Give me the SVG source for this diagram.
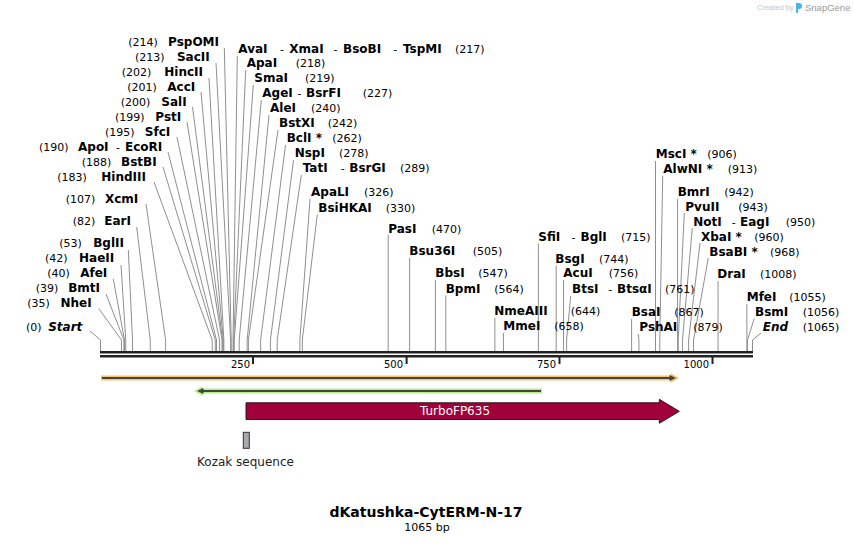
<svg xmlns="http://www.w3.org/2000/svg" width="854" height="543" viewBox="0 0 854 543">
<style>
.e{font-family:"DejaVu Sans",Verdana,sans-serif;font-size:12px;font-weight:bold;fill:#000}
.i{font-style:italic}
.n{font-family:"DejaVu Sans",Verdana,sans-serif;font-size:11px;font-weight:normal;fill:#000}
.t{font-family:"DejaVu Sans",Verdana,sans-serif;font-size:10px;fill:#000}
.c polyline{fill:none;stroke:#8f8f8f;stroke-width:1}
</style>
<rect width="854" height="543" fill="#fff"/>
<g id="watermark">
<text x="757" y="10" font-family="Liberation Sans,Arial,sans-serif" font-size="7.5" fill="#c4c4c4">Created by</text>
<path d="M796,3 h3 a3,3 0 0 1 0,6 h-1 v4 h-2 z" fill="#4ab3e8"/>
<text x="805" y="11" font-family="Liberation Sans,Arial,sans-serif" font-size="9.5" fill="#9a9a9a">SnapGene</text>
</g>
<g id="connectors" class="c">
<polyline points="224.3,48 231.21,340 231.21,351"/>
<polyline points="216,63 230.6,340 230.6,351"/>
<polyline points="209,78 223.86,340 223.86,351"/>
<polyline points="201,92 223.24,340 223.24,351"/>
<polyline points="192.5,107 222.63,340 222.63,351"/>
<polyline points="187,122 222.02,340 222.02,351"/>
<polyline points="177,137 219.56,340 219.56,351"/>
<polyline points="168,152 216.5,340 216.5,351"/>
<polyline points="163,167 215.27,340 215.27,351"/>
<polyline points="154,182 212.21,340 212.21,351"/>
<polyline points="146,204 165.61,340 165.61,351"/>
<polyline points="136.7,227 150.28,340 150.28,351"/>
<polyline points="128.3,250 132.5,340 132.5,351"/>
<polyline points="121,265 125.75,340 125.75,351"/>
<polyline points="113.3,279 124.53,340 124.53,351"/>
<polyline points="106,294 123.91,340 123.91,351"/>
<polyline points="98.7,308.5 121.46,340 121.46,351"/>
<polyline points="90,331 100.5,340 100.5,351"/>
<polyline points="237.3,56 233.05,340 233.05,351"/>
<polyline points="245.7,70 233.67,340 233.67,351"/>
<polyline points="253.3,85 234.28,340 234.28,351"/>
<polyline points="261.3,100 239.18,340 239.18,351"/>
<polyline points="269,115 247.16,340 247.16,351"/>
<polyline points="278,130 248.38,340 248.38,351"/>
<polyline points="285.5,145 260.64,340 260.64,351"/>
<polyline points="293.5,160 270.45,340 270.45,351"/>
<polyline points="301.3,175 277.2,340 277.2,351"/>
<polyline points="310,199 299.89,340 299.89,351"/>
<polyline points="317.3,214.5 302.34,340 302.34,351"/>
<polyline points="388.18,235 388.18,351"/>
<polyline points="409.64,258 409.64,351"/>
<polyline points="435.39,280 435.39,351"/>
<polyline points="445.81,295.5 445.81,351"/>
<polyline points="494.87,318 494.87,351"/>
<polyline points="503.45,333 503.45,351"/>
<polyline points="538.4,243.5 538.4,351"/>
<polyline points="556.18,265.5 556.18,351"/>
<polyline points="563.54,280 563.54,351"/>
<polyline points="570.7,296 566.6,340 566.6,351"/>
<polyline points="631.6,319 631.6,351"/>
<polyline points="638.3,334 638.95,340 638.95,351"/>
<polyline points="655.51,161 655.51,351"/>
<polyline points="662.7,176 659.8,340 659.8,351"/>
<polyline points="677.58,199 677.58,351"/>
<polyline points="684.3,213 678.2,340 678.2,351"/>
<polyline points="692.3,228 682.49,340 682.49,351"/>
<polyline points="700,243 688.63,340 688.63,351"/>
<polyline points="708.3,258 693.53,340 693.53,351"/>
<polyline points="718.05,281 718.05,351"/>
<polyline points="746.87,304 746.87,351"/>
<polyline points="754.3,318.5 747.48,340 747.48,351"/>
<polyline points="761,333 752.5,340 752.5,351"/>
</g>
<g id="labels-left">
<g id="PspOMI"><text class="n" x="128.3" y="46">(214)</text><text class="e" x="219" y="46" text-anchor="end">PspOMI</text></g>
<g id="SacII"><text class="n" x="135" y="61">(213)</text><text class="e" x="209.7" y="61" text-anchor="end">SacII</text></g>
<g id="HincII"><text class="n" x="121.7" y="76">(202)</text><text class="e" x="203" y="76" text-anchor="end">HincII</text></g>
<g id="AccI"><text class="n" x="127.3" y="91">(201)</text><text class="e" x="195.3" y="91" text-anchor="end">AccI</text></g>
<g id="SalI"><text class="n" x="120.7" y="105.7">(200)</text><text class="e" x="186.7" y="105.7" text-anchor="end">SalI</text></g>
<g id="PstI"><text class="n" x="115" y="120.5">(199)</text><text class="e" x="181.3" y="120.5" text-anchor="end">PstI</text></g>
<g id="SfcI"><text class="n" x="105" y="135.5">(195)</text><text class="e" x="170.3" y="135.5" text-anchor="end">SfcI</text></g>
<g id="ApoI"><text class="n" x="39" y="150.5">(190)</text><text class="e" x="78" y="150.5">ApoI</text><text class="n" x="116" y="150.5">-</text><text class="e" x="125" y="150.5">EcoRI</text></g>
<g id="BstBI"><text class="n" x="81.7" y="165.5">(188)</text><text class="e" x="156.7" y="165.5" text-anchor="end">BstBI</text></g>
<g id="HindIII"><text class="n" x="57.3" y="180.5">(183)</text><text class="e" x="146" y="180.5" text-anchor="end">HindIII</text></g>
<g id="XcmI"><text class="n" x="65.7" y="202.5">(107)</text><text class="e" x="138.3" y="202.5" text-anchor="end">XcmI</text></g>
<g id="EarI"><text class="n" x="72.7" y="225">(82)</text><text class="e" x="131" y="225" text-anchor="end">EarI</text></g>
<g id="BglII"><text class="n" x="59.3" y="247">(53)</text><text class="e" x="124" y="247" text-anchor="end">BglII</text></g>
<g id="HaeII"><text class="n" x="45" y="262">(42)</text><text class="e" x="114.3" y="262" text-anchor="end">HaeII</text></g>
<g id="AfeI"><text class="n" x="47.3" y="277">(40)</text><text class="e" x="107.3" y="277" text-anchor="end">AfeI</text></g>
<g id="BmtI"><text class="n" x="35.7" y="292">(39)</text><text class="e" x="100" y="292" text-anchor="end">BmtI</text></g>
<g id="NheI"><text class="n" x="27.3" y="307">(35)</text><text class="e" x="91.7" y="307" text-anchor="end">NheI</text></g>
<g id="Start"><text class="n" x="26" y="330.5">(0)</text><text class="e i" x="82.3" y="330.5" text-anchor="end">Start</text></g>
</g>
<g id="labels-right">
<g id="AvaI"><text class="e" x="238.3" y="52.5">AvaI</text><text class="n" x="280" y="52.5">-</text><text class="e" x="289.3" y="52.5">XmaI</text><text class="n" x="333.5" y="52.5">-</text><text class="e" x="343" y="52.5">BsoBI</text><text class="n" x="393.3" y="52.5">-</text><text class="e" x="403" y="52.5">TspMI</text><text class="n" x="455" y="52.5">(217)</text></g>
<g id="ApaI"><text class="e" x="246.7" y="67.3">ApaI</text><text class="n" x="295.7" y="67.3">(218)</text></g>
<g id="SmaI"><text class="e" x="254.3" y="82.3">SmaI</text><text class="n" x="305" y="82.3">(219)</text></g>
<g id="AgeI"><text class="e" x="262.3" y="97">AgeI</text><text class="n" x="297.5" y="97">-</text><text class="e" x="306" y="97">BsrFI</text><text class="n" x="362.7" y="97">(227)</text></g>
<g id="AleI"><text class="e" x="270" y="112">AleI</text><text class="n" x="311" y="112">(240)</text></g>
<g id="BstXI"><text class="e" x="279" y="127">BstXI</text><text class="n" x="327.7" y="127">(242)</text></g>
<g id="BclI"><text class="e" x="286.7" y="142">BclI *</text><text class="n" x="332.3" y="142">(262)</text></g>
<g id="NspI"><text class="e" x="294.7" y="157">NspI</text><text class="n" x="339" y="157">(278)</text></g>
<g id="TatI"><text class="e" x="302.7" y="172.3">TatI</text><text class="n" x="340.7" y="172.3">-</text><text class="e" x="349.3" y="172.3">BsrGI</text><text class="n" x="400" y="172.3">(289)</text></g>
<g id="ApaLI"><text class="e" x="311" y="196.3">ApaLI</text><text class="n" x="364" y="196.3">(326)</text></g>
<g id="BsiHKAI"><text class="e" x="318.3" y="211.5">BsiHKAI</text><text class="n" x="385.7" y="211.5">(330)</text></g>
<g id="PasI"><text class="e" x="388.3" y="232.5">PasI</text><text class="n" x="431.7" y="232.5">(470)</text></g>
<g id="Bsu36I"><text class="e" x="409.3" y="255">Bsu36I</text><text class="n" x="472.7" y="255">(505)</text></g>
<g id="BbsI"><text class="e" x="435.3" y="277.3">BbsI</text><text class="n" x="478.3" y="277.3">(547)</text></g>
<g id="BpmI"><text class="e" x="445.7" y="292.7">BpmI</text><text class="n" x="494.3" y="292.7">(564)</text></g>
<g id="NmeAIII"><text class="e" x="494.3" y="315">NmeAIII</text><text class="n" x="570.7" y="315">(644)</text></g>
<g id="MmeI"><text class="e" x="503.3" y="330">MmeI</text><text class="n" x="554.3" y="330">(658)</text></g>
<g id="SfiI"><text class="e" x="538.3" y="240.5">SfiI</text><text class="n" x="571.5" y="240.5">-</text><text class="e" x="580.5" y="240.5">BglI</text><text class="n" x="621" y="240.5">(715)</text></g>
<g id="BsgI"><text class="e" x="555.3" y="262.7">BsgI</text><text class="n" x="599" y="262.7">(744)</text></g>
<g id="AcuI"><text class="e" x="563.3" y="277.3">AcuI</text><text class="n" x="608.7" y="277.3">(756)</text></g>
<g id="BtsI"><text class="e" x="572" y="292.7">BtsI</text><text class="n" x="608.3" y="292.7">-</text><text class="e" x="617" y="292.7">BtsαI</text><text class="n" x="665" y="292.7">(761)</text></g>
<g id="BsaI"><text class="e" x="631.7" y="316">BsaI</text><text class="n" x="674.3" y="316">(867)</text></g>
<g id="PshAI"><text class="e" x="639.3" y="330.7">PshAI</text><text class="n" x="693.3" y="330.7">(879)</text></g>
<g id="MscI"><text class="e" x="655.7" y="158.3">MscI *</text><text class="n" x="707.3" y="158.3">(906)</text></g>
<g id="AlwNI"><text class="e" x="663.3" y="173.3">AlwNI *</text><text class="n" x="727.7" y="173.3">(913)</text></g>
<g id="BmrI"><text class="e" x="677.7" y="196">BmrI</text><text class="n" x="724.3" y="196">(942)</text></g>
<g id="PvuII"><text class="e" x="685.3" y="210.7">PvuII</text><text class="n" x="738.3" y="210.7">(943)</text></g>
<g id="NotI"><text class="e" x="693.3" y="225.7">NotI</text><text class="n" x="731.7" y="225.7">-</text><text class="e" x="740" y="225.7">EagI</text><text class="n" x="785.7" y="225.7">(950)</text></g>
<g id="XbaI"><text class="e" x="701" y="241">XbaI *</text><text class="n" x="754.3" y="241">(960)</text></g>
<g id="BsaBI"><text class="e" x="709.3" y="255.7">BsaBI *</text><text class="n" x="770" y="255.7">(968)</text></g>
<g id="DraI"><text class="e" x="717.3" y="278.3">DraI</text><text class="n" x="760" y="278.3">(1008)</text></g>
<g id="MfeI"><text class="e" x="746.7" y="301">MfeI</text><text class="n" x="789.3" y="301">(1055)</text></g>
<g id="BsmI"><text class="e" x="755" y="316">BsmI</text><text class="n" x="802.7" y="316">(1056)</text></g>
<g id="End"><text class="e i" x="762.7" y="330.7">End</text><text class="n" x="802.7" y="330.7">(1065)</text></g>
</g>
<g id="sequence">
<rect x="100" y="351" width="653" height="2.5" fill="#222"/>
<rect x="100" y="355" width="653" height="2.5" fill="#222"/>
<rect x="252" y="357" width="2" height="7" fill="#222"/>
<rect x="405.6" y="357" width="2" height="7" fill="#222"/>
<rect x="558.5" y="357" width="2" height="7" fill="#222"/>
<rect x="711.5" y="357" width="2" height="7" fill="#222"/>
<text class="t" x="250" y="367.5" text-anchor="end">250</text>
<text class="t" x="403" y="367.5" text-anchor="end">500</text>
<text class="t" x="556" y="367.5" text-anchor="end">750</text>
<text class="t" x="709" y="367.5" text-anchor="end">1000</text>
</g>
<g id="feature-orange">
<path d="M101,375.5 H670.5 V373 L679,378 L670.5,383 V380.5 H101 Z" fill="#f9c46f"/>
<path d="M102,378 H671" stroke="#444" stroke-width="2"/>
<path d="M669.5,375 L676,378 L669.5,381 Z" fill="#444"/>
</g>
<g id="feature-green">
<path d="M542,388.5 H202.5 V386 L194,391 L202.5,396 V393.5 H542 Z" fill="#b6f081"/>
<path d="M541,391 H202" stroke="#444" stroke-width="2"/>
<path d="M203.5,388 L197,391 L203.5,394 Z" fill="#444"/>
</g>
<g id="TurboFP635">
<path d="M246,402.8 H659.3 V399.3 L679.3,411.3 L659.3,423.3 V419.5 H246 Z" fill="#a1003a" stroke="#2a1a1e" stroke-width="1"/>
<text x="455" y="415.3" text-anchor="middle" font-family="DejaVu Sans,Verdana,sans-serif" font-size="12" fill="#fff">TurboFP635</text>
</g>
<g id="Kozak">
<rect x="243.3" y="432.3" width="6" height="16" fill="#a5aab1" stroke="#333" stroke-width="1"/>
<text x="245.5" y="466" text-anchor="middle" font-family="DejaVu Sans,Verdana,sans-serif" font-size="12" fill="#222">Kozak sequence</text>
</g>
<g id="title">
<text x="426" y="516.5" text-anchor="middle" font-family="DejaVu Sans,Verdana,sans-serif" font-size="14" font-weight="bold" fill="#000">dKatushka-CytERM-N-17</text>
<text x="427" y="530.5" text-anchor="middle" font-family="DejaVu Sans,Verdana,sans-serif" font-size="11" fill="#000">1065 bp</text>
</g>
</svg>
